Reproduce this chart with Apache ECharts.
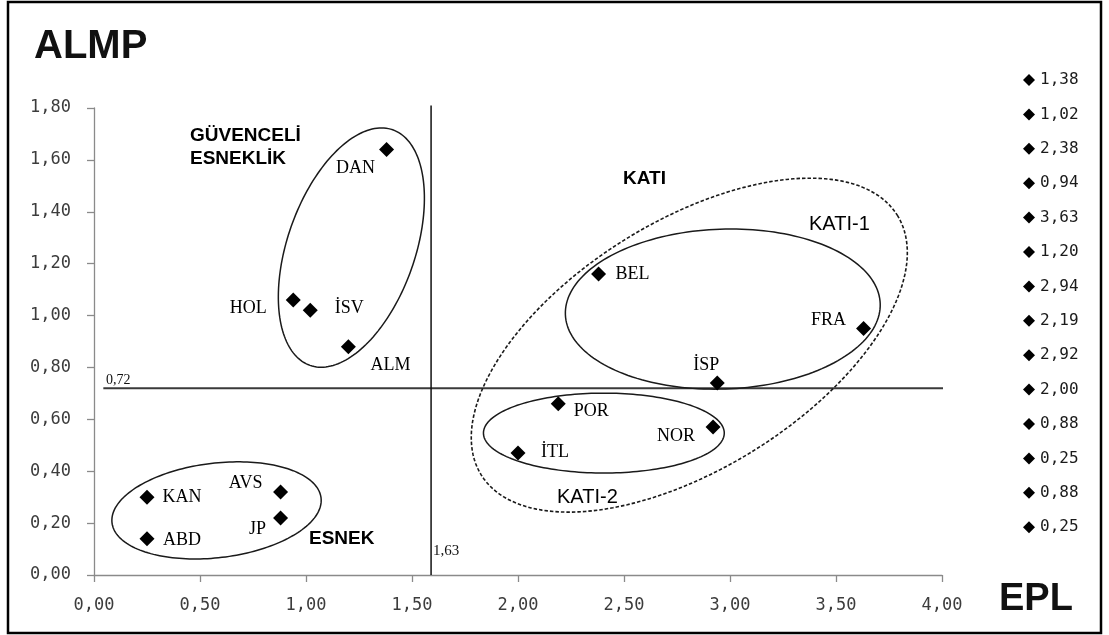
<!DOCTYPE html>
<html>
<head>
<meta charset="utf-8">
<script src="https://cdn.jsdelivr.net/npm/echarts@6/dist/echarts.min.js"></script>
<style>
  html, body { margin: 0; padding: 0; background: #fff; }
  #chart { width: 1109px; height: 635px; }
</style>
</head>
<body>
<div id="chart"></div>
<script>
// ---- data ----
const countries = ['DAN', 'İSV', 'BEL', 'HOL', 'FRA', 'ALM', 'İSP', 'POR', 'NOR', 'İTL', 'AVS', 'KAN', 'JP', 'ABD'];
const eplValues = [1.38, 1.02, 2.38, 0.94, 3.63, 1.20, 2.94, 2.19, 2.92, 2.00, 0.88, 0.25, 0.88, 0.25];
const almpValues = [1.64, 1.02, 1.16, 1.06, 0.95, 0.88, 0.74, 0.66, 0.57, 0.47, 0.32, 0.30, 0.22, 0.14];

// axis ranges / ticks
const xTicks = { min: 0, max: 4, interval: 0.5 };
const yTicks = { min: 0, max: 1.8, interval: 0.2 };

// reference lines (means): horizontal at ALMP 0,72 ; vertical labelled 1,63 (drawn near 1,59)
const almpMean = 0.72;
const almpLineFrom = 0.044, almpLineTo = 4.11;
const eplMeanLabel = '1,63';
const eplLineX = 1.59;
const eplLineTop = 1.81;

// group ellipses in data units: centre, two conjugate semi-diameters
const groupNames = ['GÜVENCELİ ESNEKLİK', 'KATI', 'KATI-1', 'KATI-2', 'ESNEK'];
const groupCentres = [[1.214, 1.262], [2.808, 0.886], [2.966, 1.025], [2.405, 0.547], [0.578, 0.249]];
const groupAxisU = [[0.195, 0.454], [0.981, 0.501], [0.7425, 0.0212], [0.568, 0], [0.493, 0.048]];
const groupAxisV = [[0.284, -0.081], [0.309, -0.404], [0.0132, -0.308], [0, -0.154], [0.026, -0.181]];
const groupDashed = [false, true, false, false, false];

// ---- presentation ----
const labelOffsets = {
  'DAN': [-31, 19], 'İSV': [39, -2], 'BEL': [34, 0], 'HOL': [-45, 8], 'FRA': [-35, -8],
  'ALM': [42, 19], 'İSP': [-11, -18], 'POR': [33, 7], 'NOR': [-37, 9], 'İTL': [37, -1],
  'AVS': [-35, -9], 'KAN': [35, 0], 'JP': [-23, 11], 'ABD': [35, 2]
};

const fmt = v => v.toFixed(2).replace('.', ',');

const scatterSeries = countries.map((c, i) => ({
  name: c,
  type: 'scatter',
  symbol: 'diamond',
  symbolSize: 15,
  itemStyle: { color: '#000', opacity: 1 },
  data: [[eplValues[i], almpValues[i]]],
  z: 5,
  emphasis: { disabled: true },
  label: {
    show: true,
    position: 'inside',
    offset: labelOffsets[c],
    formatter: c,
    align: 'center',
    verticalAlign: 'middle',
    fontFamily: 'Liberation Serif',
    fontSize: 18,
    color: '#000'
  }
}));

const ellipseSeries = {
  type: 'custom',
  name: 'groups',
  coordinateSystem: 'cartesian2d',
  silent: true,
  clip: false,
  z: 3,
  data: groupCentres.map(c => [c[0], c[1]]),
  renderItem: function (params, api) {
    const i = params.dataIndex;
    const c = groupCentres[i], u = groupAxisU[i], v = groupAxisV[i];
    const pts = [];
    const n = 180;
    for (let k = 0; k < n; k++) {
      const t = 2 * Math.PI * k / n;
      pts.push(api.coord([c[0] + u[0] * Math.cos(t) + v[0] * Math.sin(t),
                          c[1] + u[1] * Math.cos(t) + v[1] * Math.sin(t)]));
    }
    return {
      type: 'polygon',
      shape: { points: pts },
      style: {
        fill: 'none',
        stroke: '#1a1a1a',
        lineWidth: groupDashed[i] ? 1.6 : 1.5,
        lineDash: groupDashed[i] ? [3.5, 2] : null
      }
    };
  }
};

const hLine = {
  type: 'line', name: 'almpMean', silent: true, clip: false, symbol: 'none', z: 2,
  data: [[almpLineFrom, almpMean], [almpLineTo, almpMean]],
  lineStyle: { color: '#3a3a3a', width: 2 }
};
const vLine = {
  type: 'line', name: 'eplMean', silent: true, clip: false, symbol: 'none', z: 2,
  data: [[eplLineX, 0], [eplLineX, eplLineTop]],
  lineStyle: { color: '#111', width: 1.5 }
};

const axisGray = '#8a8a8a';
const tickFont = { fontFamily: 'DejaVu Sans Mono', fontSize: 17, color: '#3c3c3c' };

function txt(text, x, y, font, color, align) {
  return {
    type: 'text', x: x, y: y, silent: true, z: 10,
    style: { text: text, font: font, fill: color || '#000', align: align || 'left', verticalAlign: 'middle',
             textAlign: align || 'left', textVerticalAlign: 'middle' }
  };
}

const chart = echarts.init(document.getElementById('chart'), null, { renderer: 'canvas' });
chart.setOption({
  backgroundColor: '#fff',
  animation: false,
  grid: { left: 94, right: 167, top: 108, bottom: 60 },
  xAxis: {
    type: 'value', min: xTicks.min, max: xTicks.max, interval: xTicks.interval,
    axisLine: { show: true, onZero: false, lineStyle: { color: axisGray, width: 1.3 } },
    axisTick: { show: true, length: 7, lineStyle: { color: axisGray, width: 1.3 } },
    splitLine: { show: false },
    axisLabel: Object.assign({ margin: 22, formatter: fmt }, tickFont)
  },
  yAxis: {
    type: 'value', min: yTicks.min, max: yTicks.max, interval: yTicks.interval,
    axisLine: { show: true, onZero: false, lineStyle: { color: axisGray, width: 1.3 } },
    axisTick: { show: true, length: 7, lineStyle: { color: axisGray, width: 1.3 } },
    splitLine: { show: false },
    axisLabel: Object.assign({ margin: 23, formatter: fmt }, tickFont)
  },
  legend: {
    orient: 'vertical',
    left: 1018, top: 65,
    data: countries,
    icon: 'diamond',
    itemWidth: 12, itemHeight: 12,
    itemGap: 14.4,
    itemTextGap: 4,
    selectedMode: false,
    formatter: name => fmt(eplValues[countries.indexOf(name)]),
    textStyle: { fontFamily: 'DejaVu Sans Mono', fontSize: 16, color: '#1a1a1a', lineHeight: 20 }
  },
  series: [ellipseSeries, hLine, vLine].concat(scatterSeries),
  graphic: [
    { type: 'rect', silent: true, z: 20, shape: { x: 8, y: 2, width: 1093, height: 631 },
      style: { fill: 'none', stroke: '#000', lineWidth: 2.5 } },
    txt('ALMP', 34, 47, 'bold 40px "Liberation Sans"', '#111'),
    txt('EPL', 999, 600, 'bold 38px "Liberation Sans"', '#111'),
    txt('GÜVENCELİ', 190, 136, 'bold 19px "Liberation Sans"', '#000'),
    txt('ESNEKLİK', 190, 159, 'bold 19px "Liberation Sans"', '#000'),
    txt('KATI', 623, 179, 'bold 19px "Liberation Sans"', '#000'),
    txt('KATI-1', 809, 224, '20px "Liberation Sans"', '#000'),
    txt('KATI-2', 557, 497, '20px "Liberation Sans"', '#000'),
    txt('ESNEK', 309, 539, 'bold 19px "Liberation Sans"', '#000'),
    txt(fmt(almpMean), 106, 380, '14px "Liberation Serif"', '#111'),
    txt(eplMeanLabel, 433, 551, '15px "Liberation Serif"', '#111')
  ]
});
</script>
</body>
</html>
